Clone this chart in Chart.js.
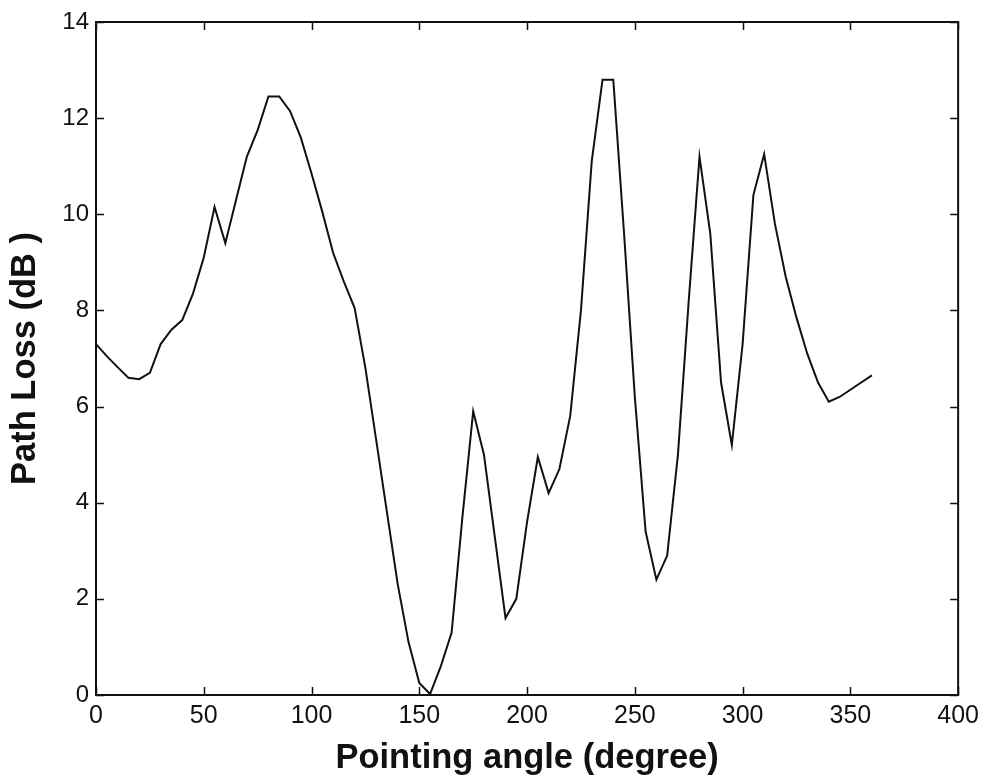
<!DOCTYPE html>
<html>
<head>
<meta charset="utf-8">
<script src="https://cdn.jsdelivr.net/npm/chart.js@4"></script>
<style>
  html, body { margin: 0; padding: 0; background: #ffffff; }
  #wrap { width: 985px; height: 784px; position: relative; }
</style>
</head>
<body>
<div id="wrap"><canvas id="c" width="985" height="784"></canvas></div>
<script>
// Pointing angle (degree)
const angles = [0,5,10,15,20,25,30,35,40,45,50,55,60,65,70,75,80,85,90,95,100,105,110,115,120,125,130,135,140,145,150,155,160,165,170,175,180,185,190,195,200,205,210,215,220,225,230,235,240,245,250,255,260,265,270,275,280,285,290,295,300,305,310,315,320,325,330,335,340,345,350,355,360];
// Path Loss (dB)
const pathLoss = [7.3,7.05,6.82,6.6,6.57,6.7,7.3,7.6,7.8,8.35,9.1,10.15,9.4,10.3,11.2,11.75,12.45,12.45,12.15,11.6,10.85,10.05,9.2,8.6,8.05,6.8,5.3,3.8,2.3,1.1,0.25,0.02,0.6,1.3,3.7,5.9,5.0,3.3,1.6,2.0,3.6,4.95,4.2,4.7,5.8,8.0,11.1,12.8,12.8,9.6,6.2,3.4,2.4,2.9,5.0,8.2,11.2,9.6,6.5,5.2,7.3,10.4,11.25,9.8,8.7,7.85,7.1,6.5,6.1,6.2,6.35,6.5,6.65];
// Axis ticks
const xTicks = [0,50,100,150,200,250,300,350,400];
const yTicks = [0,2,4,6,8,10,12,14];

const points = angles.map((a, i) => ({ x: a, y: pathLoss[i] }));

const boxPlugin = {
  id: 'matlabBox',
  afterDraw(chart) {
    const ctx = chart.ctx;
    const a = chart.chartArea;
    const xs = chart.scales.x, ys = chart.scales.y;
    const tl = 8;
    ctx.save();
    ctx.strokeStyle = '#111';
    ctx.lineWidth = 2;
    ctx.strokeRect(a.left, a.top, a.right - a.left, a.bottom - a.top);
    ctx.lineWidth = 1.5;
    ctx.beginPath();
    xTicks.forEach(v => {
      const px = Math.round(xs.getPixelForValue(v)) + 0.5;
      ctx.moveTo(px, a.bottom); ctx.lineTo(px, a.bottom - tl);
      ctx.moveTo(px, a.top); ctx.lineTo(px, a.top + tl);
    });
    yTicks.forEach(v => {
      const py = Math.round(ys.getPixelForValue(v)) + 0.5;
      ctx.moveTo(a.left, py); ctx.lineTo(a.left + tl, py);
      ctx.moveTo(a.right, py); ctx.lineTo(a.right - tl, py);
    });
    ctx.stroke();
    ctx.restore();
  }
};

new Chart(document.getElementById('c'), {
  type: 'scatter',
  data: {
    datasets: [{
      data: points,
      showLine: true,
      borderColor: '#111111',
      borderWidth: 2,
      pointRadius: 0,
      tension: 0,
      fill: false
    }]
  },
  options: {
    responsive: false,
    animation: false,
    layout: { padding: { top: 22, right: 25, left: 0, bottom: 0 } },
    plugins: { legend: { display: false }, tooltip: { enabled: false } },
    scales: {
      x: {
        type: 'linear',
        min: 0, max: 400,
        afterBuildTicks(scale) { scale.ticks = xTicks.map(v => ({ value: v })); },
        afterFit(scale) { scale.height = 89; },
        grid: { display: false, drawTicks: false },
        border: { display: false },
        ticks: {
          color: '#111',
          padding: 6,
          maxRotation: 0,
          autoSkip: false,
          font: { family: 'Liberation Sans, Arial, sans-serif', size: 25 }
        },
        title: {
          display: true,
          text: 'Pointing angle (degree)',
          color: '#111',
          padding: { top: 0, bottom: 5 },
          font: { family: 'Liberation Sans, Arial, sans-serif', size: 34.5, weight: 'bold' }
        }
      },
      y: {
        type: 'linear',
        min: 0, max: 14,
        afterBuildTicks(scale) { scale.ticks = yTicks.map(v => ({ value: v })); },
        afterFit(scale) { scale.width = 96; },
        grid: { display: false, drawTicks: false },
        border: { display: false },
        ticks: {
          color: '#111',
          padding: 7,
          autoSkip: false,
          font: { family: 'Liberation Sans, Arial, sans-serif', size: 24 }
        },
        title: {
          display: true,
          text: 'Path Loss (dB )',
          color: '#111',
          padding: { top: 5, bottom: 0 },
          font: { family: 'Liberation Sans, Arial, sans-serif', size: 34.5, weight: 'bold' }
        }
      }
    }
  },
  plugins: [boxPlugin]
});
</script>
</body>
</html>
